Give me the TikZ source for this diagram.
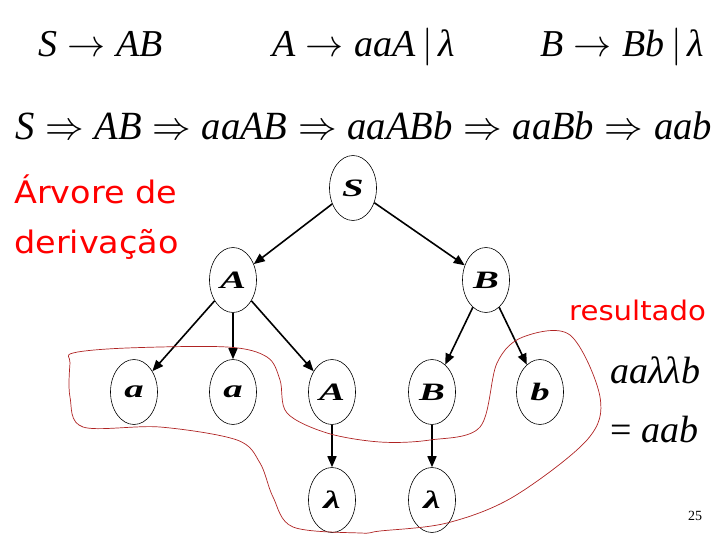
\RequirePackage{fix-cm}
\documentclass[tikz,border=0pt]{standalone}
\usepackage{fontspec}
\setmainfont{Liberation Serif}
\newfontfamily\comicfont[FakeStretch=1.08]{DejaVu Sans}
\usetikzlibrary{shapes.geometric,arrows.meta}
\definecolor{laco}{RGB}{175,35,35}
\newcommand{\sy}[1]{\textit{#1}}
\newcommand{\letra}[1]{\scalebox{1.55}[1]{#1}}

\begin{document}
\begin{tikzpicture}[x=1pt, y=-1pt, grow=down,
    every node/.style={inner sep=0pt},
    simb/.style={draw, ellipse, line width=0.6pt, minimum width=47pt, minimum height=65pt,
      font=\fontsize{25}{25}\selectfont\bfseries\itshape},
    edge from parent/.style={draw, line width=1.6pt, -{Triangle[length=11pt,width=9pt]}}]
    \useasboundingbox (0,0) rectangle (720,540);
    \tikzstyle{level 1} = [level distance=92pt, sibling distance=253pt]
    \tikzstyle{level 2} = [level distance=112pt, sibling distance=99pt]
    \tikzstyle{level 3} = [level distance=108pt]
    \node[anchor=base west, font=\fontsize{38}{38}\selectfont] (r1) at (38,57) {$\sy{S}\rightarrow\sy{AB}$};
    \node[anchor=base west, font=\fontsize{38}{38}\selectfont] (r2) at (272,57) {$\sy{A}\rightarrow\sy{aaA}\,|\,\sy{λ}$};
    \node[anchor=base west, font=\fontsize{38}{38}\selectfont] (r3) at (540,57) {$\sy{B}\rightarrow\sy{Bb}\,|\,\sy{λ}$};
    \node[anchor=base west, font=\fontsize{40}{40}\selectfont] (deriv) at (15,140)
      {\resizebox{697pt}{\height}{$\sy{S}\Rightarrow\sy{AB}\Rightarrow\sy{aaAB}\Rightarrow\sy{aaABb}\Rightarrow\sy{aaBb}\Rightarrow\sy{aab}$}};
    \node[anchor=base west, align=left, text=red, font=\comicfont\fontsize{31}{51}\selectfont] (titulo) at (14,254)
      {Árvore de\\derivação};
    \node[anchor=base west, text=red, font=\comicfont\fontsize{27}{27}\selectfont] (res) at (569,320) {resultado};
    \node[anchor=base west, font=\fontsize{38}{38}\selectfont\itshape] (pal) at (610,383) {aaλλb};
    \node[anchor=base west, font=\fontsize{38}{38}\selectfont] (igual) at (610,442) {= \textit{aab}};
    \node[anchor=base west, font=\fontsize{14}{14}\selectfont] (pag) at (688,520) {25};
    \node[simb] (s) at (353,188) {\letra{S}}
      child[xshift=6.5pt] {
        node[simb] (a) {\letra{A}}
        child {
          node[simb] (a1) {\letra{a}}
        }
        child {
          node[simb] (a2) {\letra{a}}
        }
        child {
          node[simb] (a3) {\letra{A}}
          child {
            node[simb] (l1) {\letra{λ}}
          }
        }
      }
      child[xshift=6.5pt] {
        node[simb] (b) {\letra{B}}
        child[sibling distance=108pt] {
          node[simb] (b1) {\letra{B}}
          child {
            node[simb] (l2) {\letra{λ}}
          }
        }
        child[sibling distance=108pt] {
          node[simb] (b2) {\letra{b}}
        }
      };
    \draw[laco, line width=0.7pt] plot[smooth cycle, tension=0.55] coordinates {
      (73,353) (127,348) (227,347) (267,357) (280,380) (287,413) (327,433) (380,442)
      (430,440) (480,427) (497,363) (523,337) (570,335) (600,397) (587,440) (513,497)
      (447,523) (380,531) (360,533) (293,527) (273,497) (260,463) (237,440) (160,427)
      (83,427) (70,397) (70,363)};
\end{tikzpicture}
\end{document}
